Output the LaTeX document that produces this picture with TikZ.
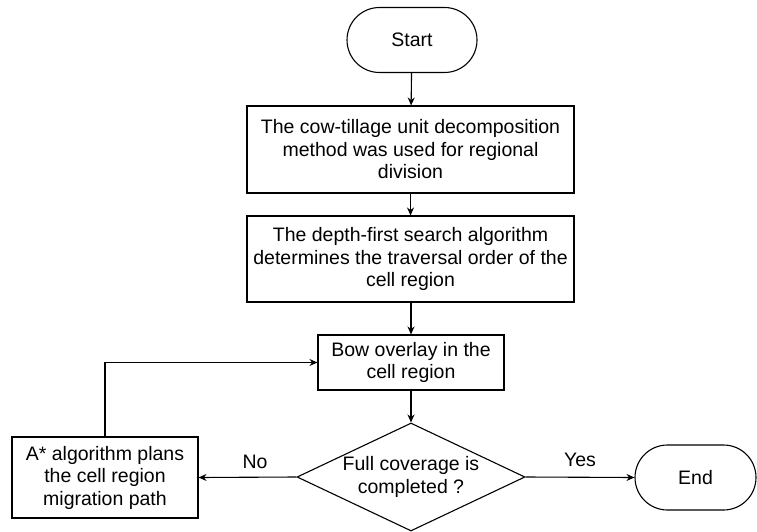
\documentclass[tikz,border=0pt]{standalone}
\usepackage{fontspec}
\setmainfont{Liberation Sans}
\usetikzlibrary{shapes.geometric,shapes.misc,arrows.meta}
\begin{document}
\begin{tikzpicture}[x=1pt,y=-1pt,
  every node/.style={font=\fontsize{19.5}{22.5}\selectfont},
  term/.style={draw,line width=1.1pt,rounded rectangle,minimum width=130pt,minimum height=65pt,inner sep=0pt},
  procbox/.style={draw,line width=1.1pt,rectangle,align=center,inner sep=0pt},
  decision/.style={draw,line width=1.1pt,diamond,aspect=2.11,minimum width=228pt,minimum height=108pt,inner sep=0pt,align=center},
  conn/.style={line width=1.1pt,-{Stealth[length=8pt,width=7pt]}},
  lbl/.style={inner sep=0pt}
]
\useasboundingbox (0,0) rectangle (757,532);
\node[term] (start) at (412,40) {Start};
\node[procbox,minimum width=327pt,minimum height=87pt] (b1) at (410.5,149.5) {The cow-tillage unit decomposition\\method was used for regional\\division};
\node[procbox,minimum width=327pt,minimum height=86pt] (b2) at (410.5,259) {The depth-first search algorithm\\determines the traversal order of the\\cell region};
\node[procbox,minimum width=186pt,minimum height=55pt] (b3) at (411,362.5) {Bow overlay in the\\cell region};
\node[decision] (dec) at (411,477) {Full coverage is\\completed ?};
\node[procbox,minimum width=186pt,minimum height=81pt] (astar) at (105,477.5) {A* algorithm plans\\the cell region\\migration path};
\node[term,minimum width=121pt] (end) at (695.5,477.5) {End};
\node[lbl] (no) at (255,462) {No};
\node[lbl] (yes) at (580,460) {Yes};
\draw[conn] (start) -- (b1);
\draw[conn] (b1) -- (b2);
\draw[conn] (b2.south -| b3.north) -- (b3);
\draw[conn] (b3) -- (dec);
\draw[conn] (dec.west) -- (astar.east);
\draw[conn] (dec.east) -- (end.west);
\draw[conn] (astar.north) |- (b3.west);
\end{tikzpicture}
\end{document}
